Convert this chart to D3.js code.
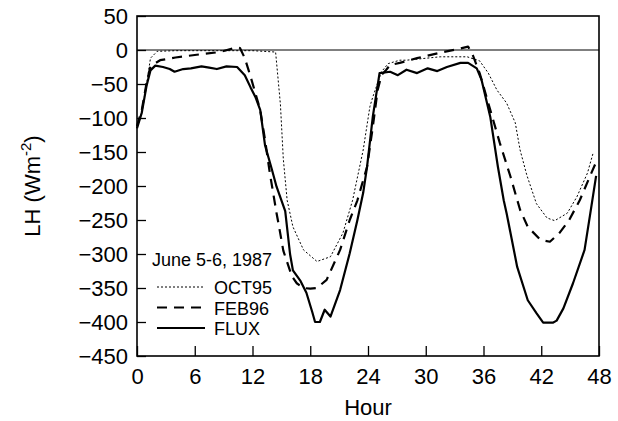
<!DOCTYPE html>
<html>
<head>
<meta charset="utf-8">
<script src="https://cdn.jsdelivr.net/npm/d3@7"></script>
<style>
  body { margin: 0; background: #fff; }
  svg text { font-family: Arial, "Liberation Sans", sans-serif; fill: #000; }
</style>
</head>
<body>
<div id="chart"></div>
<script>
// values: [hour, LH in W m-2]
let fluxData = [[0,-115],[0.5,-92],[1,-52],[1.4,-30],[1.9,-23],[2.7,-25],[3.4,-28],[3.9,-32],[4.8,-28],[5.6,-27],
  [6.7,-24],[7.5,-26],[8.3,-28],[9.3,-24],[10.4,-25],[11.2,-37],[11.8,-55],[12.3,-69],[12.8,-88],[13.3,-140],
  [14,-175],[14.5,-201],[15.4,-237],[15.9,-300],[16.2,-324],[17,-340],[17.6,-357],[18.2,-385],[18.5,-400],[19,-400],
  [19.5,-382],[20.1,-392],[21.1,-353],[22.1,-299],[22.9,-250],[23.5,-210],[23.9,-172],[24.5,-98],[25.2,-34],[26.3,-32],
  [27.1,-37],[28,-29],[29.1,-34],[30.2,-27],[31.2,-31],[32.2,-25],[33.6,-19],[34.4,-19],[35.3,-27],[35.8,-44],
  [36.7,-98],[37.5,-172],[38.1,-221],[38.4,-240],[39.5,-319],[40.6,-368],[41.5,-387],[42.2,-401],[43.2,-401],[43.6,-398],
  [44.3,-380],[45.3,-343],[46.5,-294],[47.1,-240],[47.7,-185]];

let feb96Data = [[0,-112],[0.5,-88],[1,-48],[1.4,-24],[2.4,-15],[4,-11],[6.2,-7],[8.6,-3],[10.4,4],[10.7,3],
  [11.2,-12],[11.6,-30],[11.9,-44],[12.8,-88],[13.3,-132],[13.8,-181],[14.5,-240],[14.7,-255],[15.2,-295],[15.6,-312],
  [16.1,-333],[16.6,-343],[17.3,-350],[18,-351],[18.7,-350],[19.7,-338],[21.1,-294],[22.1,-250],[22.9,-221],[23.9,-172],
  [24.5,-113],[25,-59],[25.4,-37],[25.9,-29],[26.3,-22],[27.3,-19],[29.1,-12],[31.5,-4],[33.2,1],[34.4,5],
  [34.9,-8],[35.6,-34],[36.7,-88],[37.7,-137],[38.8,-186],[39.8,-235],[40.6,-260],[41.9,-279],[42.9,-282],[43.9,-269],
  [44.9,-250],[46,-221],[46.9,-191],[47.6,-168]];

let oct95Data = [[0,-115],[0.5,-90],[1,-50],[1.4,-12],[2.1,-2],[4,-1],[8,-1],[12,-1],[14.4,-3],[14.9,-80],
  [15.2,-160],[15.6,-221],[16.2,-260],[17.3,-294],[18.7,-311],[20.1,-304],[21.4,-269],[22.4,-221],[23.5,-147],[24.2,-83],
  [24.5,-69],[25.4,-32],[26.1,-20],[27.3,-15],[28,-15],[31.5,-10],[34.3,-10],[35.6,-16],[36.5,-34],[37.4,-59],
  [38.4,-78],[39.3,-107],[39.8,-147],[40.5,-184],[41.5,-226],[42.6,-247],[43.4,-251],[44.7,-240],[45.7,-216],[46.8,-181],
  [47.4,-151]];

let xTicks = [0, 6, 12, 18, 24, 30, 36, 42, 48];
let yTicks = [50, 0, -50, -100, -150, -200, -250, -300, -350, -400, -450];
let seriesNames = ['OCT95', 'FEB96', 'FLUX'];
let legendTitle = 'June 5-6, 1987';

let width = 618,
    height = 421,
    margin = {left: 137, top: 16, right: 19, bottom: 65},
    plotW = width - margin.left - margin.right,
    plotH = height - margin.top - margin.bottom;

let svg = d3.select('#chart').append('svg')
    .attr('width', width)
    .attr('height', height)
    .append('g')
    .attr('transform', `translate(${margin.left}, ${margin.top})`);

let xScale = d3.scaleLinear().domain([0, 48]).range([0, plotW]);
let yScale = d3.scaleLinear().domain([-450, 50]).range([plotH, 0]);

// inward ticks
let xAxis = svg.append('g')
    .attr('transform', `translate(0, ${plotH})`)
    .call(d3.axisBottom(xScale).tickValues(xTicks).tickSizeInner(-10).tickSizeOuter(0).tickPadding(12));
let yAxis = svg.append('g')
    .call(d3.axisLeft(yScale).tickValues(yTicks).tickSizeInner(-9).tickSizeOuter(0).tickPadding(9));

[xAxis, yAxis].forEach(a => {
    a.select('.domain').remove();
    a.selectAll('line').attr('stroke', '#000').attr('stroke-width', 1.3);
    a.selectAll('text').style('font-size', '22px').attr('font-family', null);
});

// zero line
svg.append('line')
    .attr('x1', 0).attr('x2', plotW)
    .attr('y1', yScale(0)).attr('y2', yScale(0))
    .attr('stroke', '#000').attr('stroke-width', 1);

let line = d3.line()
    .x(d => xScale(d[0]))
    .y(d => yScale(d[1]));

let styles = {
    OCT95: {w: 1, dash: '2,2'},
    FEB96: {w: 2.2, dash: '10,7'},
    FLUX: {w: 2.2, dash: null}
};
let seriesData = {OCT95: oct95Data, FEB96: feb96Data, FLUX: fluxData};

seriesNames.forEach(k => {
    svg.append('path')
        .datum(seriesData[k])
        .attr('fill', 'none')
        .attr('stroke', '#000')
        .attr('stroke-width', styles[k].w)
        .attr('stroke-dasharray', styles[k].dash)
        .attr('stroke-linejoin', 'round')
        .attr('d', line);
});

// frame
svg.append('rect')
    .attr('width', plotW).attr('height', plotH)
    .attr('fill', 'none').attr('stroke', '#000').attr('stroke-width', 1.6);

// legend
let lg = svg.append('g').attr('transform', 'translate(15, 250)');
lg.append('text').attr('x', 0).attr('y', 0).style('font-size', '18px').text(legendTitle);
seriesNames.forEach((k, i) => {
    let yy = 21 + i * 20.5;
    lg.append('line')
        .attr('x1', 5).attr('x2', 53)
        .attr('y1', yy).attr('y2', yy)
        .attr('stroke', '#000')
        .attr('stroke-width', styles[k].w)
        .attr('stroke-dasharray', styles[k].dash);
    lg.append('text').attr('x', 62).attr('y', yy + 7)
        .style('font-size', '18px').text(k);
});

// axis titles
svg.append('text')
    .attr('x', plotW / 2).attr('y', plotH + 59)
    .attr('text-anchor', 'middle')
    .style('font-size', '22px')
    .text('Hour');

let yt = svg.append('text')
    .attr('transform', `translate(${40 - margin.left}, ${plotH / 2}) rotate(-90)`)
    .attr('text-anchor', 'middle')
    .style('font-size', '22px');
yt.append('tspan').text('LH (Wm');
yt.append('tspan').attr('dy', -9).style('font-size', '15px').text('-2');
yt.append('tspan').attr('dy', 9).text(')');
</script>
</body>
</html>
